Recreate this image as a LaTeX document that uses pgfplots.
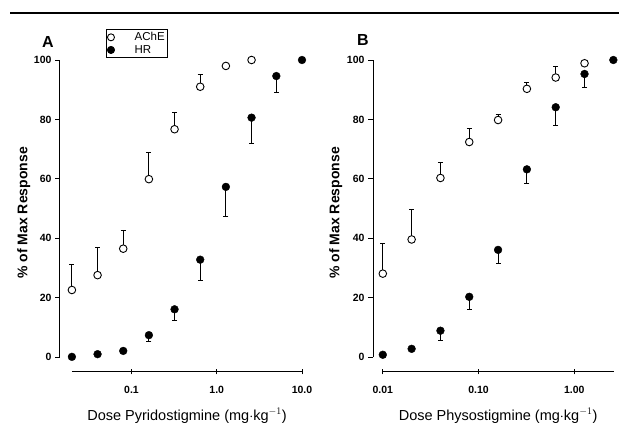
\documentclass[border=0pt]{standalone}
\usepackage{fontspec}
\setmainfont{Liberation Sans}
\usepackage{pgfplots}
\pgfplotsset{compat=1.18}
\pgfplotstableread{
x y e
0.02 22.6 8.7
0.04 27.6 9.4
0.08 36.5 6.0
0.16 59.9 9.1
0.32 76.7 5.7
0.64 91.0 4.0
1.28 98.0 0
2.56 100 0
}\achea
\pgfplotstableread{
x y e
0.02 0.1 0
0.04 1.0 0
0.08 2.1 0
0.16 7.4 2.0
0.32 16.1 3.6
0.64 32.8 6.9
1.28 57.3 9.8
2.56 80.6 8.7
5 94.6 5.4
10 100 0
}\hra
\pgfplotstableread{
x y e
0.01 28.1 10.3
0.02 39.6 10.0
0.04 60.3 5.2
0.08 72.4 4.5
0.16 79.8 1.8
0.32 90.3 2.2
0.64 94.1 3.6
1.28 98.9 0
}\acheb
\pgfplotstableread{
x y e
0.01 0.8 0
0.02 2.8 0
0.04 8.9 3.3
0.08 20.3 4.1
0.16 36.1 4.7
0.32 63.2 4.8
0.64 84.1 6.1
1.28 95.3 4.7
2.56 100 0
}\hrb
\begin{document}
\begin{tikzpicture}
\useasboundingbox (0pt,0pt) rectangle (619pt,423pt);
\draw[line width=2pt] (10pt,410pt) -- (619pt,410pt);
\node[font=\bfseries\fontsize{16}{17}\selectfont] at (48pt,381pt) {A};
\node[font=\bfseries\fontsize{16}{17}\selectfont] at (363pt,383pt) {B};
\begin{semilogxaxis}[scale only axis, ymin=-5, ymax=100, clip=false,
  axis lines=left, axis line style={draw=none},
  xminorticks=false,
  ytick={0,20,40,60,80,100}, yticklabels={0,20,40,60,80,100},
  ytick align=outside, xtick align=center,
  major tick length=5pt,
  tick style={black, line width=0.9pt},
  ticklabel style={font=\bfseries\fontsize{10.5}{12}\selectfont},
  xticklabel style={yshift=-8pt},
  at={(60pt,51pt)}, anchor=south west, width=242pt, height=312pt,
  xmin=0.0145, xmax=10,
  xtick={0.1,1,10}, xticklabels={0.1,1.0,10.0},
  xlabel={Dose Pyridostigmine (mg$\cdot$kg$^{-1}$)},
  ylabel={\% of Max Response},
  xlabel style={font=\fontsize{14.5}{16}\selectfont, at={(axis description cs:0.525,-0.14)}, anchor=center},
  ylabel style={font=\bfseries\fontsize{14}{16}\selectfont, at={(axis description cs:-0.15,0.51)}, anchor=center},
  legend style={at={(axis description cs:0.19,1.099)}, anchor=north west, draw=black, line width=0.6pt,
    font=\fontsize{11.5}{12}\selectfont, inner sep=1pt, row sep=-1pt},
  legend cell align=left,
]
\draw[line width=1pt] (axis cs:0.0145,0) -- (axis cs:0.0145,100);
\draw[line width=1pt] (axis cs:0.02,-5) -- (axis cs:10,-5);
\addlegendimage{only marks, mark=*, mark size=3.5pt, black, mark options={fill=white, line width=0.9pt}}
\addlegendentry{\hspace{18pt}AChE}
\addlegendimage{only marks, mark=*, mark size=3.7pt, black}
\addlegendentry{\hspace{18pt}HR}
\addplot[forget plot, only marks, mark=*, mark size=3.8pt, black, mark options={fill=white, draw=black, line width=0.9pt},
  error bars/y dir=plus, error bars/y explicit, error bars/error bar style={line width=0.9pt},
  error bars/error mark options={rotate=90, mark size=2.5pt, line width=0.9pt}]
  table[x=x,y=y,y error=e] {\achea};
\addplot[forget plot, only marks, mark=*, mark size=3.9pt, black,
  error bars/y dir=minus, error bars/y explicit, error bars/error bar style={line width=0.9pt},
  error bars/error mark options={rotate=90, mark size=2.5pt, line width=0.9pt}]
  table[x=x,y=y,y error=e] {\hra};
\end{semilogxaxis}
\begin{semilogxaxis}[scale only axis, ymin=-5, ymax=100, clip=false,
  axis lines=left, axis line style={draw=none},
  xminorticks=false,
  ytick={0,20,40,60,80,100}, yticklabels={0,20,40,60,80,100},
  ytick align=outside, xtick align=center,
  major tick length=5pt,
  tick style={black, line width=0.9pt},
  ticklabel style={font=\bfseries\fontsize{10.5}{12}\selectfont},
  xticklabel style={yshift=-8pt},
  at={(373pt,51pt)}, anchor=south west, width=241pt, height=312pt,
  xmin=0.0079, xmax=2.6,
  xtick={0.01,0.1,1}, xticklabels={0.01,0.10,1.00},
  xlabel={Dose Physostigmine (mg$\cdot$kg$^{-1}$)},
  ylabel={\% of Max Response},
  xlabel style={font=\fontsize{14.5}{16}\selectfont, at={(axis description cs:0.519,-0.14)}, anchor=center},
  ylabel style={font=\bfseries\fontsize{14}{16}\selectfont, at={(axis description cs:-0.155,0.51)}, anchor=center},
]
\draw[line width=1pt] (axis cs:0.0079,0) -- (axis cs:0.0079,100);
\draw[line width=1pt] (axis cs:0.01,-5) -- (axis cs:2.6,-5);
\addplot[only marks, mark=*, mark size=3.8pt, black, mark options={fill=white, draw=black, line width=0.9pt},
  error bars/y dir=plus, error bars/y explicit, error bars/error bar style={line width=0.9pt},
  error bars/error mark options={rotate=90, mark size=2.5pt, line width=0.9pt}]
  table[x=x,y=y,y error=e] {\acheb};
\addplot[only marks, mark=*, mark size=3.9pt, black,
  error bars/y dir=minus, error bars/y explicit, error bars/error bar style={line width=0.9pt},
  error bars/error mark options={rotate=90, mark size=2.5pt, line width=0.9pt}]
  table[x=x,y=y,y error=e] {\hrb};
\end{semilogxaxis}
\end{tikzpicture}
\end{document}
